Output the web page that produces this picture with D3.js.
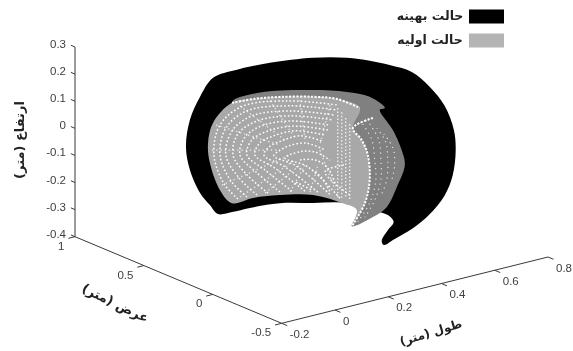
<!DOCTYPE html>
<html>
<head>
<meta charset="utf-8">
<script src="https://cdn.jsdelivr.net/npm/d3@7"></script>
<style>
  html, body { margin: 0; padding: 0; background: #fff; }
  svg { display: block; }
</style>
</head>
<body>
<svg id="chart"></svg>
<script>
// tick labels of the three axes
const xTicks = [-0.2, 0, 0.2, 0.4, 0.6, 0.8];
const yTicks = [-0.5, 0, 0.5, 1];
const zTicks = [-0.4, -0.3, -0.2, -0.1, 0, 0.1, 0.2, 0.3];

// all outlines are read as [length, height] on one width plane
const planeY = 0.251;

// optimal state, black silhouette
const optimalOutline = [
  [-0.171, 0.084], [-0.156, 0.18], [-0.118, 0.256], [-0.069, 0.314], [0.021, 0.322], [0.144, 0.317],
  [0.306, 0.296], [0.433, 0.265], [0.519, 0.233], [0.594, 0.199], [0.677, 0.153], [0.745, 0.081],
  [0.801, -0.003], [0.835, -0.099], [0.842, -0.175], [0.831, -0.265], [0.801, -0.332], [0.745, -0.388],
  [0.677, -0.427], [0.613, -0.448], [0.572, -0.46], [0.564, -0.443], [0.587, -0.409], [0.609, -0.384],
  [0.594, -0.359], [0.568, -0.341], [0.433, -0.271], [0.306, -0.24], [0.182, -0.21], [0.069, -0.2],
  [0.002, -0.199], [-0.051, -0.193], [-0.081, -0.153], [-0.118, -0.099], [-0.156, -0.005]
];

// initial state, far side of the surface
const initialBack = [
  [0.002, 0.204], [0.096, 0.217], [0.306, 0.177], [0.433, 0.139], [0.519, 0.1], [0.576, 0.045],
  [0.557, 0.043], [0.606, -0.044], [0.639, -0.126], [0.651, -0.184], [0.621, -0.258], [0.583, -0.323],
  [0.531, -0.347], [0.452, -0.361], [0.471, -0.306], [0.257, -0.032]
];

// initial state, near side of the surface
const initialFace = [
  [0.002, 0.204], [0.088, 0.198], [0.182, 0.182], [0.306, 0.152], [0.396, 0.122], [0.482, 0.068],
  [0.456, 0], [0.489, -0.052], [0.512, -0.113], [0.519, -0.207], [0.501, -0.288], [0.452, -0.361],
  [0.471, -0.306], [0.418, -0.268], [0.306, -0.21], [0.182, -0.18], [0.081, -0.166], [0.002, -0.166],
  [-0.043, -0.107], [-0.081, 0.002], [-0.088, 0.078], [-0.069, 0.148]
];

// mesh rows on the near side
const meshRows = [
  [[0.024, -0.156], [-0.028, -0.087], [-0.066, 0.029], [-0.043, 0.134], [0.043, 0.182], [0.219, 0.158], [0.399, 0.099]],
  [[0.058, -0.157], [-0.002, -0.083], [-0.043, 0.023], [-0.021, 0.117], [0.058, 0.161], [0.219, 0.14], [0.392, 0.083]],
  [[0.096, -0.159], [0.028, -0.079], [-0.021, 0.017], [0.002, 0.1], [0.077, 0.138], [0.219, 0.121], [0.384, 0.066]],
  [[0.137, -0.162], [0.058, -0.075], [0.006, 0.01], [0.024, 0.084], [0.096, 0.114], [0.219, 0.103], [0.377, 0.05]],
  [[0.182, -0.169], [0.092, -0.073], [0.032, 0.004], [0.051, 0.066], [0.114, 0.092], [0.219, 0.084], [0.369, 0.032]],
  [[0.227, -0.177], [0.126, -0.074], [0.058, -0.002], [0.077, 0.049], [0.137, 0.067], [0.227, 0.063], [0.362, 0.016]],
  [[0.276, -0.189], [0.163, -0.076], [0.088, -0.009], [0.107, 0.031], [0.159, 0.044], [0.238, 0.043], [0.351, 0]],
  [[0.324, -0.204], [0.201, -0.081], [0.122, -0.018], [0.141, 0.007], [0.186, 0.018], [0.257, 0.02], [0.339, -0.019]],
  [[0.369, -0.223], [0.242, -0.087], [0.159, -0.03], [0.178, -0.017], [0.216, -0.007], [0.279, -0.012], [0.351, -0.055]],
  [[0.407, -0.247], [0.287, -0.102], [0.201, -0.048], [0.257, -0.039], [0.313, -0.053], [0.369, -0.097]],
  [[0.444, -0.244], [0.351, -0.136], [0.426, -0.128]],
  [[0.257, -0.069], [0.314, -0.083], [0.362, -0.125], [0.393, -0.199]],
  [[0.302, -0.117], [0.34, -0.156], [0.37, -0.215]],
  [[0.242, -0.147], [0.302, -0.191]]
];

// mesh lines crossing the rows, from the rim to the middle
const meshSpokes = [
  [[-0.073, 0.048], [0.182, -0.014]],
  [[-0.036, -0.09], [0.22, -0.042]],
  [[0.032, -0.151], [0.239, -0.065]],
  [[0.126, -0.159], [0.257, -0.088]],
  [[0.22, -0.178], [0.276, -0.093]],
  [[-0.058, 0.137], [0.182, 0.004]],
  [[0.032, 0.185], [0.201, 0.018]],
  [[0.145, 0.176], [0.239, 0.016]],
  [[0.257, 0.152], [0.276, 0]],
  [[0.37, 0.106], [0.332, -0.032]],
  [[0.332, -0.051], [0.389, -0.212]],
  [[0.295, -0.197], [0.325, -0.104]]
];

// brighter upright strip next to the fold
const meshColumns = [
  [[0.399, 0.088], [0.399, -0.244]],
  [[0.414, 0.069], [0.414, -0.248]],
  [[0.429, 0.044], [0.429, -0.251]],
  [[0.444, 0.018], [0.444, -0.263]]
];

// sparse rows on the folded part
const flapRows = [
  [[0.493, 0.006], [0.527, -0.061], [0.538, -0.138], [0.542, -0.213], [0.519, -0.292], [0.474, -0.351]],
  [[0.519, 0], [0.553, -0.067], [0.561, -0.143], [0.561, -0.217], [0.538, -0.286], [0.501, -0.34]],
  [[0.546, -0.022], [0.579, -0.082], [0.587, -0.15], [0.583, -0.223], [0.561, -0.276]],
  [[0.572, -0.05], [0.606, -0.11], [0.613, -0.175], [0.602, -0.227]]
];

// heavy dotted rims of the near side
const rimTop = [[0.002, 0.204], [0.088, 0.198], [0.182, 0.182], [0.306, 0.152], [0.396, 0.122], [0.482, 0.068]];
const rimFold = [[0.531, 0.019], [0.456, 0], [0.489, -0.052], [0.512, -0.113], [0.519, -0.207], [0.501, -0.288], [0.452, -0.361]];

const legendLabels = ['حالت بهینه', 'حالت اولیه'];
const legendColors = ['#000000', '#b4b4b4'];

const width = 573;
const height = 351;

const svg = d3.select('#chart').attr('width', width).attr('height', height);

// the source is a soft screenshot
svg.append('filter').attr('id', 'soft')
  .append('feGaussianBlur').attr('stdDeviation', 0.35);

const root = svg.append('g').attr('filter', 'url(#soft)');

// screen position of the (x=-0.2, y=-0.5, z=-0.4) corner, each scale gives an offset from it
const cornerX = 281.7;
const cornerY = 323.3;
const xToLeft = d3.scaleLinear().domain([-0.2, 0.8]).range([0, 266.3]);
const xToTop = d3.scaleLinear().domain([-0.2, 0.8]).range([0, -66.3]);
const yToLeft = d3.scaleLinear().domain([-0.5, 1]).range([0, -206.7]);
const yToTop = d3.scaleLinear().domain([-0.5, 1]).range([0, -86.6]);
const zToTop = d3.scaleLinear().domain([-0.4, 0.3]).range([0, -189.7]);

const project = (x, y, z) => [
  cornerX + xToLeft(x) + yToLeft(y),
  cornerY + xToTop(x) + yToTop(y) + zToTop(z)
];

const closedPath = d3.line()
  .x(d => project(d[0], planeY, d[1])[0])
  .y(d => project(d[0], planeY, d[1])[1])
  .curve(d3.curveCatmullRomClosed.alpha(0.5));

const shapes = [
  { pts: optimalOutline, fill: '#000000' },
  { pts: initialBack, fill: '#808080' },
  { pts: initialFace, fill: '#a8a8a8' }
];

root.selectAll('path.shape')
  .data(shapes)
  .enter()
  .append('path')
  .attr('class', 'shape')
  .attr('d', d => closedPath(d.pts))
  .attr('fill', d => d.fill);

const openPath = d3.line()
  .x(d => project(d[0], planeY, d[1])[0])
  .y(d => project(d[0], planeY, d[1])[1])
  .curve(d3.curveCatmullRom.alpha(0.5));

const dotted = (rows, w, dash, op) => root.append('g')
  .selectAll('path')
  .data(rows)
  .enter()
  .append('path')
  .attr('d', openPath)
  .attr('fill', 'none')
  .attr('stroke', '#fff')
  .attr('stroke-width', w)
  .attr('stroke-dasharray', dash)
  .attr('opacity', op);

dotted(meshRows, 1.5, '1.6 2.2', 1);
dotted(meshSpokes, 1.3, '1.4 2.8', 0.75);
dotted(meshColumns, 1.3, '1.6 1.9', 0.85);
dotted(flapRows, 1.1, '1.2 4', 0.85);
dotted([rimTop, rimFold], 2, '2.2 1.4', 1);

// axes
const axisColor = '#3a3a3a';
const labelColor = '#3f3f3f';

const segment = (a, b) => root.append('line')
  .attr('x1', a[0]).attr('y1', a[1])
  .attr('x2', b[0]).attr('y2', b[1])
  .attr('stroke', axisColor)
  .attr('stroke-width', 1);

segment(project(-0.2, -0.5, -0.4), project(0.8, -0.5, -0.4));
segment(project(-0.2, -0.5, -0.4), project(-0.2, 1, -0.4));
segment(project(-0.2, 1, -0.4), project(-0.2, 1, 0.3));

const tickLabel = (p, text, anchor) => root.append('text')
  .attr('x', p[0]).attr('y', p[1])
  .attr('text-anchor', anchor)
  .attr('dominant-baseline', 'middle')
  .attr('font-family', '"Liberation Sans", Arial, sans-serif')
  .attr('font-size', 11.5)
  .attr('fill', labelColor)
  .text(text);

// ticks run along the other floor axis, as in a 3d box
xTicks.forEach(v => {
  const p = project(v, -0.5, -0.4);
  segment(p, project(v, -0.54, -0.4));
  tickLabel([p[0] + 8, p[1] + 11.5], v, 'start');
});
yTicks.forEach(v => {
  const p = project(-0.2, v, -0.4);
  segment(p, project(-0.225, v, -0.4));
  tickLabel([p[0] - 10.5, p[1] + 10], v, 'end');
});
zTicks.forEach(v => {
  const p = project(-0.2, 1, v);
  segment(p, project(-0.2, 1.03, v));
  tickLabel([p[0] - 9, p[1] - 2], v, 'end');
});

// axis titles and legend
const arabicLabel = (x, y, angle, text, size) => root.append('text')
  .attr('transform', `translate(${x},${y}) rotate(${angle})`)
  .attr('text-anchor', 'middle')
  .attr('dominant-baseline', 'middle')
  .attr('direction', 'rtl')
  .attr('font-family', '"DejaVu Sans", sans-serif')
  .attr('font-weight', 'bold')
  .attr('font-size', size)
  .attr('fill', '#222')
  .text(text);

arabicLabel(20, 140, -90, 'ارتفاع (متر)', 13);
arabicLabel(115, 304, 26, 'عرض (متر)', 13);
arabicLabel(431, 333, -17, 'طول (متر)', 12);

const legendY = d3.scalePoint().domain(legendLabels).range([16.5, 40.5]);

root.selectAll('rect.key')
  .data(legendLabels)
  .enter()
  .append('rect')
  .attr('class', 'key')
  .attr('x', 469)
  .attr('y', d => legendY(d) - 7)
  .attr('width', 35)
  .attr('height', 14)
  .attr('fill', (d, i) => legendColors[i]);

legendLabels.forEach(d => {
  arabicLabel(430, legendY(d), 0, d, 12.5);
});
</script>
</body>
</html>
